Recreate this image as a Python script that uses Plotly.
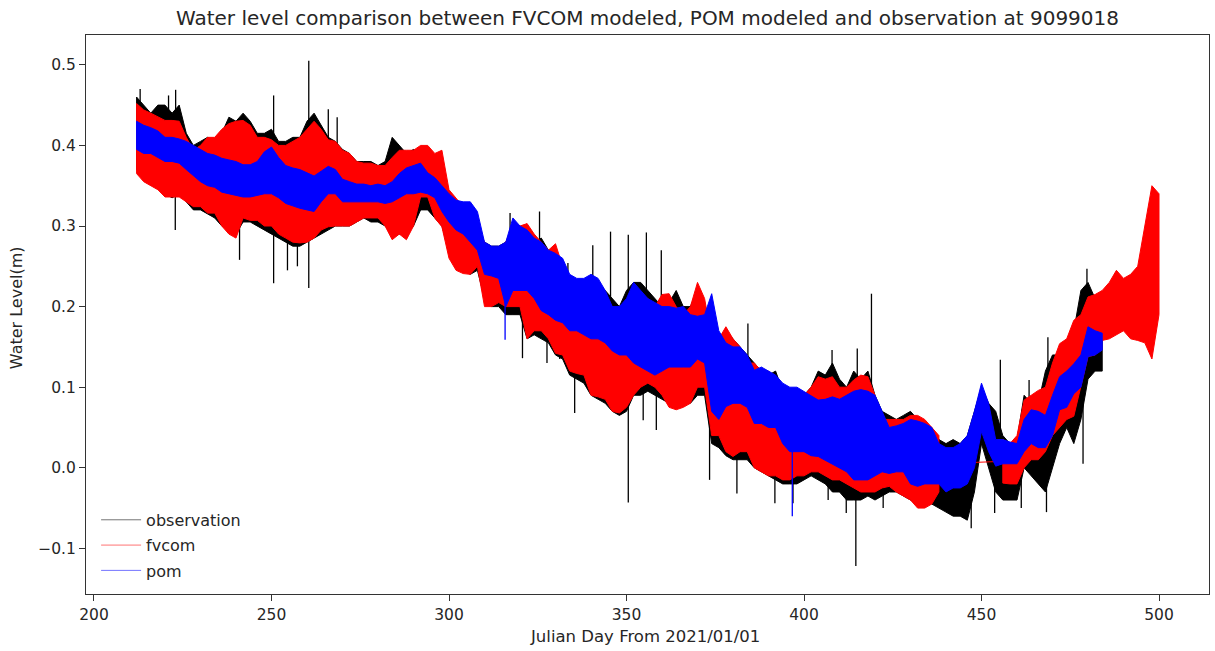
import plotly.graph_objects as go

# ---------------- data ----------------
# node days every 2 days from 212 to 500
days = list(range(212, 501, 2))

obs_hi = [
    0.460, 0.450, 0.440, 0.450, 0.450, 0.440, 0.450, 0.415, 0.400, 0.405,
    0.410, 0.405, 0.415, 0.435, 0.430, 0.440, 0.430, 0.415, 0.415, 0.420,
    0.405, 0.405, 0.410, 0.410, 0.430, 0.440, 0.425, 0.410, 0.405, 0.395,
    0.390, 0.380, 0.380, 0.380, 0.375, 0.380, 0.410, 0.400, 0.390, 0.395,
    0.390, 0.390, 0.385, 0.380, 0.340, 0.330, 0.325, 0.320, 0.300, 0.280,
    0.275, 0.275, 0.280, 0.300, 0.300, 0.290, 0.280, 0.285, 0.270, 0.270,
    0.250, 0.230, 0.225, 0.230, 0.235, 0.230, 0.220, 0.210, 0.200, 0.220,
    0.230, 0.230, 0.220, 0.210, 0.200, 0.205, 0.220, 0.200, 0.200, 0.220,
    0.200, 0.160, 0.160, 0.170, 0.160, 0.150, 0.140, 0.130, 0.120, 0.115,
    0.120, 0.095, 0.095, 0.090, 0.090, 0.100, 0.120, 0.115, 0.130, 0.110,
    0.100, 0.120, 0.110, 0.120, 0.090, 0.070, 0.065, 0.060, 0.065, 0.070,
    0.060, 0.055, 0.050, 0.035, 0.030, 0.035, 0.030, 0.040, 0.070, 0.100,
    0.080, 0.070, 0.040, 0.030, 0.035, 0.090, 0.080, 0.080, 0.120, 0.140,
    0.140, 0.150, 0.170, 0.220, 0.230, 0.210, 0.190, None, None, None,
    None, None, None, None, None,
]
obs_lo = [
    0.370, 0.360, 0.355, 0.350, 0.340, 0.335, 0.340, 0.330, 0.320, 0.320,
    0.315, 0.310, 0.300, 0.295, 0.290, 0.305, 0.305, 0.300, 0.295, 0.290,
    0.285, 0.280, 0.275, 0.275, 0.280, 0.285, 0.290, 0.295, 0.300, 0.300,
    0.300, 0.305, 0.310, 0.305, 0.305, 0.300, 0.290, 0.290, 0.290, 0.300,
    0.320, 0.320, 0.310, 0.300, 0.270, 0.250, 0.245, 0.240, 0.245, 0.210,
    0.200, 0.200, 0.190, 0.190, 0.190, 0.160, 0.165, 0.160, 0.155, 0.140,
    0.135, 0.115, 0.110, 0.105, 0.090, 0.085, 0.080, 0.070, 0.065, 0.070,
    0.090, 0.090, 0.095, 0.090, 0.085, 0.080, 0.075, 0.080, 0.080, 0.090,
    0.090, 0.030, 0.025, 0.015, 0.010, 0.010, 0.010, 0.000, -0.005, -0.010,
    -0.015, -0.020, -0.020, -0.020, -0.015, -0.010, -0.015, -0.020, -0.030, -0.030,
    -0.040, -0.040, -0.040, -0.035, -0.040, -0.035, -0.030, -0.030, -0.035, -0.040,
    -0.045, -0.045, -0.045, -0.050, -0.055, -0.060, -0.060, -0.065, -0.030, 0.030,
    0.000, -0.030, -0.040, -0.040, -0.040, 0.000, -0.010, -0.020, -0.030, 0.000,
    0.030, 0.050, 0.030, 0.060, 0.110, 0.120, 0.120, None, None, None,
    None, None, None, None, None,
]

fvcom_hi = [
    0.452, 0.444, 0.440, 0.435, 0.431, 0.431, 0.430, 0.410, 0.394, 0.400,
    0.410, 0.410, 0.420, 0.427, 0.430, 0.431, 0.425, 0.410, 0.410, 0.407,
    0.400, 0.400, 0.405, 0.410, 0.420, 0.430, 0.420, 0.407, 0.405, 0.394,
    0.390, 0.380, 0.378, 0.378, 0.375, 0.375, 0.385, 0.394, 0.394, 0.394,
    0.400, 0.400, 0.390, 0.394, 0.345, 0.335, 0.324, 0.310, 0.295, 0.280,
    0.270, 0.270, 0.280, 0.300, 0.300, 0.303, 0.290, 0.280, 0.270, 0.278,
    0.250, 0.230, 0.220, 0.220, 0.220, 0.220, 0.210, 0.200, 0.190, 0.200,
    0.220, 0.215, 0.210, 0.200, 0.215, 0.216, 0.200, 0.190, 0.200, 0.230,
    0.210, 0.160, 0.160, 0.175, 0.160, 0.150, 0.130, 0.130, 0.120, 0.120,
    0.110, 0.100, 0.095, 0.090, 0.090, 0.100, 0.113, 0.110, 0.113, 0.100,
    0.100, 0.109, 0.115, 0.113, 0.090, 0.060, 0.060, 0.060, 0.060, 0.065,
    0.065, 0.060, 0.050, 0.040, None, None, None, None, None, None,
    None, None, 0.035, 0.030, 0.040, 0.084, 0.090, 0.096, 0.100, 0.130,
    0.154, 0.160, 0.183, 0.190, 0.212, 0.215, 0.220, 0.230, 0.245, 0.235,
    0.240, 0.250, 0.300, 0.350, 0.340,
]
fvcom_lo = [
    0.365, 0.355, 0.350, 0.345, 0.336, 0.336, 0.336, 0.330, 0.324, 0.324,
    0.316, 0.316, 0.300, 0.290, 0.285, 0.310, 0.307, 0.307, 0.300, 0.300,
    0.290, 0.285, 0.280, 0.279, 0.280, 0.285, 0.295, 0.299, 0.300, 0.300,
    0.300, 0.305, 0.310, 0.310, 0.310, 0.300, 0.283, 0.290, 0.283, 0.300,
    0.336, 0.336, 0.310, 0.299, 0.260, 0.245, 0.241, 0.240, 0.250, 0.200,
    0.200, 0.205, 0.200, 0.200, 0.200, 0.160, 0.170, 0.170, 0.160, 0.142,
    0.140, 0.120, 0.117, 0.115, 0.090, 0.088, 0.085, 0.070, 0.068, 0.075,
    0.090, 0.100, 0.105, 0.100, 0.090, 0.075, 0.072, 0.075, 0.080, 0.100,
    0.100, 0.040, 0.040, 0.020, 0.014, 0.020, 0.020, 0.000, -0.005, -0.010,
    -0.010, -0.015, -0.015, -0.010, -0.010, -0.005, -0.005, -0.010, -0.015, -0.015,
    -0.020, -0.025, -0.030, -0.030, -0.030, -0.025, -0.023, -0.030, -0.035, -0.040,
    -0.050, -0.050, -0.045, -0.030, None, None, None, None, None, None,
    None, None, -0.019, -0.020, -0.020, 0.000, 0.010, 0.010, 0.020, 0.040,
    0.050, 0.060, 0.064, 0.100, 0.138, 0.140, 0.158, 0.160, 0.165, 0.170,
    0.160, 0.158, 0.155, 0.135, 0.190,
]

pom_hi = [
    0.430, 0.425, 0.422, 0.418, 0.410, 0.410, 0.408, 0.405, 0.400, 0.395,
    0.390, 0.388, 0.384, 0.382, 0.380, 0.376, 0.376, 0.380, 0.392, 0.398,
    0.385, 0.375, 0.372, 0.370, 0.366, 0.362, 0.368, 0.374, 0.370, 0.358,
    0.355, 0.352, 0.352, 0.350, 0.352, 0.350, 0.355, 0.365, 0.372, 0.375,
    0.378, 0.366, 0.360, 0.350, 0.340, 0.332, 0.330, 0.330, 0.318, 0.280,
    0.275, 0.275, 0.280, 0.310, 0.300, 0.295, 0.285, 0.280, 0.270, 0.266,
    0.260, 0.240, 0.235, 0.235, 0.240, 0.235, 0.220, 0.200, 0.200, 0.210,
    0.230, 0.220, 0.210, 0.205, 0.200, 0.200, 0.198, 0.200, 0.190, 0.188,
    0.190, 0.216, 0.170, 0.155, 0.150, 0.150, 0.140, 0.121, 0.125, 0.120,
    0.115, 0.105, 0.100, 0.100, 0.095, 0.090, 0.084, 0.085, 0.088, 0.085,
    0.090, 0.095, 0.097, 0.095, 0.090, 0.070, 0.050, 0.052, 0.055, 0.060,
    0.058, 0.055, 0.050, 0.030, 0.025, 0.025, 0.030, 0.040, 0.070, 0.105,
    0.080, 0.035, 0.035, 0.032, 0.030, 0.060, 0.072, 0.070, 0.065, 0.090,
    0.113, 0.120, 0.129, 0.140, 0.175, 0.170, 0.167, None, None, None,
    None, None, None, None, None,
]
pom_lo = [
    0.395, 0.390, 0.390, 0.385, 0.380, 0.380, 0.378, 0.370, 0.362, 0.355,
    0.350, 0.348, 0.342, 0.340, 0.338, 0.336, 0.336, 0.338, 0.340, 0.340,
    0.335, 0.328, 0.325, 0.322, 0.320, 0.318, 0.330, 0.340, 0.340, 0.330,
    0.330, 0.330, 0.330, 0.330, 0.330, 0.328, 0.330, 0.335, 0.340, 0.340,
    0.342, 0.340, 0.335, 0.318, 0.305, 0.295, 0.290, 0.280, 0.270, 0.240,
    0.238, 0.235, 0.200, 0.220, 0.220, 0.220, 0.210, 0.195, 0.190, 0.183,
    0.180, 0.170, 0.170, 0.165, 0.160, 0.160, 0.155, 0.145, 0.140, 0.140,
    0.130, 0.125, 0.120, 0.115, 0.120, 0.125, 0.125, 0.125, 0.125, 0.135,
    0.130, 0.070, 0.060, 0.076, 0.080, 0.080, 0.075, 0.055, 0.055, 0.050,
    0.050, 0.030, 0.020, 0.020, 0.020, 0.015, 0.014, 0.010, 0.005, 0.000,
    -0.005, -0.015, -0.015, -0.015, -0.010, -0.005, -0.007, -0.005, -0.005, -0.020,
    -0.023, -0.020, -0.020, -0.020, -0.030, -0.025, -0.025, -0.020, 0.000, 0.045,
    0.020, 0.002, 0.005, 0.005, 0.005, 0.020, 0.030, 0.025, 0.025, 0.040,
    0.072, 0.075, 0.092, 0.100, 0.138, 0.140, 0.146, None, None, None,
    None, None, None, None, None,
]

# isolated spikes of the observation record (day, extreme value)
obs_spike_days = [213.0, 221.0, 222.9, 223.0, 241.0, 250.6, 250.6, 254.5, 257.3, 260.5,
                  260.5, 266.0, 268.5, 317.2, 320.7, 325.5, 327.6, 331.2, 333.5, 335.4,
                  340.5, 345.5, 350.5, 350.5, 354.7, 355.6, 358.4, 359.8, 373.4, 381.1,
                  384.2, 391.8, 396.9, 406.8, 407.9, 411.9, 414.6, 415.0, 419.0, 422.3,
                  447.1, 453.7, 455.3, 461.2, 463.4, 468.3, 468.7, 478.6, 479.7]
obs_spike_vals = [0.470, 0.462, 0.295, 0.469, 0.258, 0.462, 0.229, 0.245, 0.250, 0.505,
                  0.223, 0.445, 0.435, 0.316, 0.136, 0.318, 0.130, 0.135, 0.254, 0.068,
                  0.276, 0.293, 0.289, -0.043, 0.059, 0.292, 0.047, 0.270, -0.015, -0.032,
                  0.179, -0.044, -0.044, -0.040, 0.146, -0.056, -0.122, 0.148, 0.216, -0.050,
                  -0.075, -0.056, 0.134, -0.050, 0.109, -0.055, 0.162, 0.005, 0.247]
pom_spike_days = [315.8, 396.7]
pom_spike_vals = [0.159, -0.060]

series_names = ["observation", "fvcom", "pom"]
series_colors = ["#000000", "#ff0000", "#0000ff"]

x_ticks = [200, 250, 300, 350, 400, 450, 500]
y_ticks = [-0.1, 0.0, 0.1, 0.2, 0.3, 0.4, 0.5]
y_tick_text = ["\u22120.1", "0.0", "0.1", "0.2", "0.3", "0.4", "0.5"]


# ---------------- helpers ----------------
def segments(d, hi, lo):
    segs, cur = [], []
    for a, h, l in zip(d, hi, lo):
        if h is None or l is None:
            if cur:
                segs.append(cur)
                cur = []
        else:
            cur.append((a, h, l))
    if cur:
        segs.append(cur)
    return segs


def band_xy(d, hi, lo):
    xs, ys = [], []
    for seg in segments(d, hi, lo):
        dd = [s[0] for s in seg]
        hh = [s[1] for s in seg]
        ll = [s[2] for s in seg]
        xs += dd + dd[::-1] + [dd[0], None]
        ys += hh + ll[::-1] + [hh[0], None]
    return xs, ys


def spike_xy(sd, sv, d, hi, lo):
    xs, ys = [], []
    for a, v in zip(sd, sv):
        i = min(range(len(d)), key=lambda k: abs(d[k] - a) if hi[k] is not None else 1e9)
        base = (hi[i] + lo[i]) / 2.0
        xs += [a, a, None]
        ys += [base, v, None]
    return xs, ys


def gap_link(d, hi, lo):
    segs = segments(d, hi, lo)
    xs, ys = [], []
    for s1, s2 in zip(segs[:-1], segs[1:]):
        xs += [s1[-1][0], s2[0][0], None]
        ys += [(s1[-1][1] + s1[-1][2]) / 2.0, (s2[0][1] + s2[0][2]) / 2.0, None]
    return xs, ys


fig = go.Figure()

bands = [(obs_hi, obs_lo), (fvcom_hi, fvcom_lo), (pom_hi, pom_lo)]
spikes = {0: (obs_spike_days, obs_spike_vals), 2: (pom_spike_days, pom_spike_vals)}

for k, (hi, lo) in enumerate(bands):
    col = series_colors[k]
    bx, by = band_xy(days, hi, lo)
    fig.add_trace(go.Scatter(x=bx, y=by, mode="lines", fill="toself", fillcolor=col,
                             line=dict(color=col, width=1), showlegend=False,
                             hoverinfo="skip"))
    gx, gy = gap_link(days, hi, lo)
    if gx:
        fig.add_trace(go.Scatter(x=gx, y=gy, mode="lines", line=dict(color=col, width=1),
                                 showlegend=False, hoverinfo="skip"))
    if k in spikes:
        sd, sv = spikes[k]
        sx, sy = spike_xy(sd, sv, days, hi, lo)
        fig.add_trace(go.Scatter(x=sx, y=sy, mode="lines", line=dict(color=col, width=1.3),
                                 showlegend=False, hoverinfo="skip"))

# legend entries
for name, col in zip(series_names, series_colors):
    fig.add_trace(go.Scatter(x=[None], y=[None], mode="lines", name=name, legendgroup=name,
                             opacity=0.55, line=dict(color=col, width=1)))

font_family = "DejaVu Sans"
txt_col = "#262626"

fig.update_layout(
    width=1215, height=651,
    margin=dict(l=86, r=6, t=35, b=57),
    paper_bgcolor="white", plot_bgcolor="white",
    font=dict(family=font_family, size=15.5, color=txt_col),
    title=dict(text="Water level comparison between FVCOM modeled, POM modeled and observation at 9099018",
               x=0.5, xref="paper", xanchor="center", y=1 - 18 / 651, yanchor="middle",
               font=dict(family=font_family, size=20, color=txt_col)),
    showlegend=True,
    legend=dict(x=0.009, y=0.163, xanchor="left", yanchor="top", bgcolor="rgba(0,0,0,0)",
                borderwidth=0, itemwidth=40, font=dict(family=font_family, size=16, color=txt_col),
                tracegroupgap=1.5),
    annotations=[
        dict(text="Julian Day From 2021/01/01", xref="paper", yref="paper",
             x=0.498, y=-0.0758, xanchor="center", yanchor="middle", showarrow=False,
             font=dict(family=font_family, size=16.5, color=txt_col)),
        dict(text="Water Level(m)", xref="paper", yref="paper", textangle=-90,
             x=-0.0622, y=0.5116, xanchor="center", yanchor="middle", showarrow=False,
             font=dict(family=font_family, size=16, color=txt_col)),
    ],
)

fig.update_xaxes(range=[197.75, 514.08], tickmode="array", tickvals=x_ticks,
                 ticks="outside", ticklen=6, tickwidth=1, tickcolor="#333333",
                 showline=True, linecolor="#333333", linewidth=1, mirror=True,
                 showgrid=False, zeroline=False)
fig.update_yaxes(range=[-0.1566, 0.537], tickmode="array", tickvals=y_ticks, ticktext=y_tick_text,
                 ticks="outside", ticklen=6, tickwidth=1, tickcolor="#333333",
                 showline=True, linecolor="#333333", linewidth=1, mirror=True,
                 showgrid=False, zeroline=False)

fig.write_html("out.html")
